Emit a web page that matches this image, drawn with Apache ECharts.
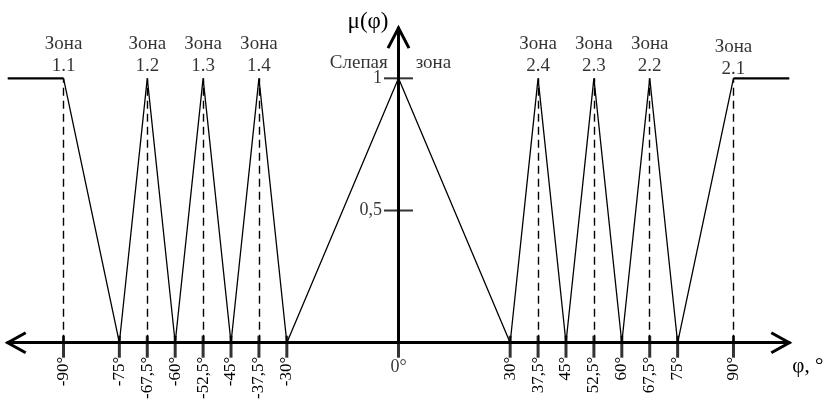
<!DOCTYPE html>
<html><head><meta charset="utf-8">
<script src="https://cdn.jsdelivr.net/npm/echarts@6/dist/echarts.min.js"></script>
<style>html,body{margin:0;padding:0;background:#fff}#c{width:826px;height:403px}</style>
</head><body><div id="c"></div>
<script>
const xMin = -105, xMax = 105, yMax = 1.19;
const membershipX = [-90,-75,-67.5,-60,-52.5,-45,-37.5,-30,0,30,37.5,45,52.5,60,67.5,75,90];
const membershipY = [1,0,1,0,1,0,1,0,1,0,1,0,1,0,1,0,1];
const leftPlateauX = [-105,-90], leftPlateauY = [1,1];
const rightPlateauX = [90,105], rightPlateauY = [1,1];
const zonePeaks = [-90,-67.5,-52.5,-37.5,37.5,52.5,67.5,90];
const zoneNames = ['1.1','1.2','1.3','1.4','2.4','2.3','2.2','2.1'];
const tickValues = [-90,-75,-67.5,-60,-52.5,-45,-37.5,-30,0,30,37.5,45,52.5,60,67.5,75,90];
const xLabelValues = tickValues.filter(v => v !== 0);
const yTickValues = [0.5, 1];
const blindPeak = 0;

const FONT = "'Liberation Serif','Times New Roman',serif";
const zip = (xs, ys) => xs.map((x,i)=>[x, ys[i]]);
const fmt = v => String(v).replace('.', ',');

const chart = echarts.init(document.getElementById('c'), null, {renderer:'canvas'});
const option = {
  animation:false,
  backgroundColor:'#fff',
  grid:{left:7.7, right:36.7, top:28.1, bottom:60.3, containLabel:false, outerBoundsMode:'none'},
  xAxis:{type:'value', min:xMin, max:xMax,
    axisLine:{onZero:true, lineStyle:{color:'#000', width:3}},
    axisTick:{show:false}, splitLine:{show:false},
    axisLabel:{customValues:xLabelValues, rotate:90, margin:14, color:'#000', fontSize:17, fontFamily:FONT,
      padding:[0,0,0,0], formatter:v=>fmt(v)+'°'},
    name:'φ, °', nameLocation:'end', nameGap:3,
    nameTextStyle:{color:'#000', fontSize:21, fontFamily:FONT, verticalAlign:'top', align:'left', padding:[13,0,0,0]}
  },
  yAxis:{type:'value', min:0, max:yMax,
    axisLine:{onZero:true, lineStyle:{color:'#000', width:3}},
    axisTick:{show:false}, splitLine:{show:false},
    axisLabel:{show:false},
    name:'μ(φ)', nameLocation:'end', nameGap:6,
    nameTextStyle:{color:'#000', fontSize:23, fontFamily:FONT, align:'right', verticalAlign:'middle', padding:[0,10,0,0]}
  },
  series:[
    {type:'line', data:zip(membershipX, membershipY), symbol:'none', lineStyle:{color:'#000', width:1.3}, z:3,
      markLine:{silent:true, symbol:['none','none'], label:{show:false},
        lineStyle:{color:'#000', width:1.4, type:[8,5]},
        data: zonePeaks.map(p=>[{coord:[p,0]},{coord:[p,1]}])}},
    {type:'line', data:zip(leftPlateauX, leftPlateauY), symbol:'none', lineStyle:{color:'#000', width:2.2}},
    {type:'line', data:zip(rightPlateauX, rightPlateauY), symbol:'none', lineStyle:{color:'#000', width:2.2}},
    {type:'scatter', data:tickValues.map(v=>[v,0]), symbol:'rect', symbolSize:[3,22], symbolOffset:[0,4],
      itemStyle:{color:'#000'}, silent:true, z:5},
    {type:'scatter', data:yTickValues.map(v=>[0,v]), symbol:'rect', symbolSize:[29,2],
      itemStyle:{color:'#000'}, silent:true, z:5,
      label:{show:true, position:'left', distance:2, formatter:p=>fmt(p.value[1]), color:'#000', fontSize:18, fontFamily:FONT}},
    {type:'scatter', data:[[0,0]], symbolSize:0, silent:true,
      label:{show:true, position:'bottom', distance:16, formatter:'0°', color:'#000', fontSize:18, fontFamily:FONT}},
    {type:'scatter', symbolSize:0, silent:true,
      data: zonePeaks.map((p,i)=>({value:[p,1], name:zoneNames[i],
        label:{distance: zoneNames[i]==='2.1' ? -2 : 1}})),
      label:{show:true, position:'top', formatter:p=>'Зона\n'+p.name, color:'#000', fontSize:19,
        lineHeight:22, fontFamily:FONT, align:'center'}},
    {type:'scatter', symbolSize:0, silent:true, data:[[blindPeak,1]],
      label:{show:true, position:'top', distance:6, offset:[-8,0],
        formatter:'{a|Слепая}{g|}{b|зона}',
        rich:{a:{color:'#000', fontSize:19, fontFamily:FONT}, g:{width:28}, b:{color:'#000', fontSize:19, fontFamily:FONT}}}}
  ]
};
chart.setOption(option);
const L = chart.convertToPixel({gridIndex:0}, [xMin,0]);
const R = chart.convertToPixel({gridIndex:0}, [xMax,0]);
const T = chart.convertToPixel({gridIndex:0}, [0,yMax]);
const st = {stroke:'#000', lineWidth:3, fill:null};
chart.setOption({graphic:[
  {type:'polyline', shape:{points:[[L[0]+18,L[1]-10],[L[0],L[1]],[L[0]+18,L[1]+10]]}, style:st, z:10},
  {type:'polyline', shape:{points:[[R[0]-18,R[1]-10],[R[0],R[1]],[R[0]-18,R[1]+10]]}, style:st, z:10},
  {type:'polyline', shape:{points:[[T[0]-10.5,T[1]+20],[T[0],T[1]],[T[0]+10.5,T[1]+20]]}, style:st, z:10}
]});
</script></body></html>
